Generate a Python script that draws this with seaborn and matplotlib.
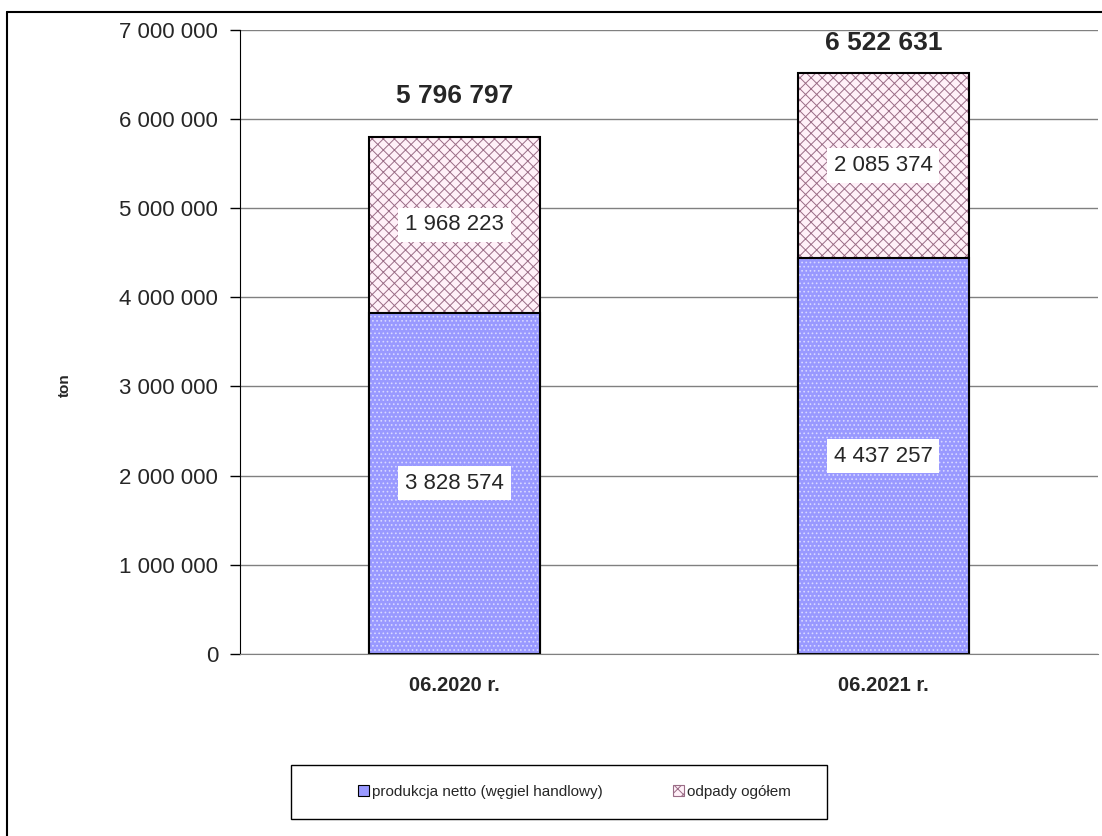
import matplotlib.pyplot as plt
import seaborn as sns
from matplotlib.lines import Line2D
from matplotlib.patches import Patch, Rectangle
from matplotlib.ticker import FuncFormatter, MultipleLocator

# Data
periods = ['06.2020 r.', '06.2021 r.']
produkcja = [3828574, 4437257]
odpady = [1968223, 2085374]
razem = [p + o for p, o in zip(produkcja, odpady)]
series_names = ['produkcja netto (węgiel handlowy)', 'odpady ogółem']


def fmt(v, pos=None):
    return f'{int(v):,}'.replace(',', ' ')


sns.set_style('white')
plt.rcParams['font.family'] = ['Liberation Sans', 'DejaVu Sans']
plt.rcParams['hatch.linewidth'] = 0.7

blue = '#9999ff'
pink = '#fff0f8'
wine = '#9a6c86'

fig, ax = plt.subplots(figsize=(11.02, 8.36), dpi=100)
fig.subplots_adjust(left=0.218, right=0.996, top=0.964, bottom=0.218)

# stacked bars: total first, bottom segment drawn over it
sns.barplot(x=periods, y=razem, color=pink, saturation=1, edgecolor=wine,
            hatch='xxx', linewidth=0, width=0.4, ax=ax)
sns.barplot(x=periods, y=razem, color='black', fill=False, linewidth=1.5,
            width=0.4, ax=ax)
sns.barplot(x=periods, y=produkcja, color=blue, saturation=1, edgecolor='#d8d8ff',
            hatch='....', linewidth=0, width=0.4, ax=ax)
sns.barplot(x=periods, y=produkcja, color='black', fill=False, linewidth=1.5,
            width=0.4, ax=ax)

# labels
total_offsets = [30, 21]
for i in range(len(periods)):
    ax.text(i, produkcja[i] / 2, fmt(produkcja[i]), ha='center', va='center',
            fontsize=16, bbox=dict(boxstyle='square,pad=0.3', fc='white', ec='none'))
    ax.text(i, produkcja[i] + odpady[i] / 2, fmt(odpady[i]), ha='center', va='center',
            fontsize=16, bbox=dict(boxstyle='square,pad=0.3', fc='white', ec='none'))
    ax.annotate(fmt(razem[i]), xy=(i, razem[i]), xytext=(0, total_offsets[i]),
                textcoords='offset points', ha='center', va='center',
                fontsize=19, fontweight='bold')

# axes
ax.set_xlim(-0.5, 1.5)
ax.set_ylim(0, 7000000)
ax.yaxis.set_major_locator(MultipleLocator(1000000))
ax.yaxis.set_major_formatter(FuncFormatter(fmt))
ax.yaxis.grid(True, color='#808080', linewidth=1)
ax.get_ygridlines()[-1].set_color('#e6e6e6')
ax.set_axisbelow(True)

ax.set_xticks([-0.5, 0.5, 1.5], minor=True)
ax.tick_params(axis='x', which='major', length=0, pad=16, labelsize=14.5)
ax.tick_params(axis='x', which='minor', length=6, width=1, color='black', direction='out')
ax.tick_params(axis='y', length=7, width=1, color='black', direction='out', pad=9,
               labelsize=16, left=True)
for lab in ax.get_xticklabels():
    lab.set_fontweight('bold')

for s in ['top', 'right']:
    ax.spines[s].set_visible(False)
ax.spines['left'].set_color('black')
ax.spines['bottom'].set_color('#808080')

ax.set_xlabel('')
ax.set_ylabel('ton', fontsize=11, fontweight='bold')
ax.yaxis.set_label_coords(-0.196, 0.43)

# outer chart frame (cropped at right and bottom)
fig.add_artist(Line2D([7 / 1102, 7 / 1102], [0, 1 - 12 / 836], color='black', lw=1.5))
fig.add_artist(Line2D([7 / 1102, 1], [1 - 12 / 836, 1 - 12 / 836], color='black', lw=1.5))

# legend box
fig.add_artist(Rectangle((291 / 1102, 17 / 836), 536 / 1102, 54 / 836,
                         transform=fig.transFigure, fill=False, ec='black', lw=1))
handles = [Patch(facecolor=blue, edgecolor='black', lw=0.8),
           Patch(facecolor=pink, edgecolor=wine, hatch='xxx', lw=0.8)]
fig.legend(handles, series_names, loc='center left',
           bbox_to_anchor=(352 / 1102, 44 / 836), ncol=2, frameon=False,
           fontsize=11, handlelength=0.7, handleheight=0.7, handletextpad=0.2,
           columnspacing=4.6, borderaxespad=0)

fig.savefig('out.png', dpi=100)
